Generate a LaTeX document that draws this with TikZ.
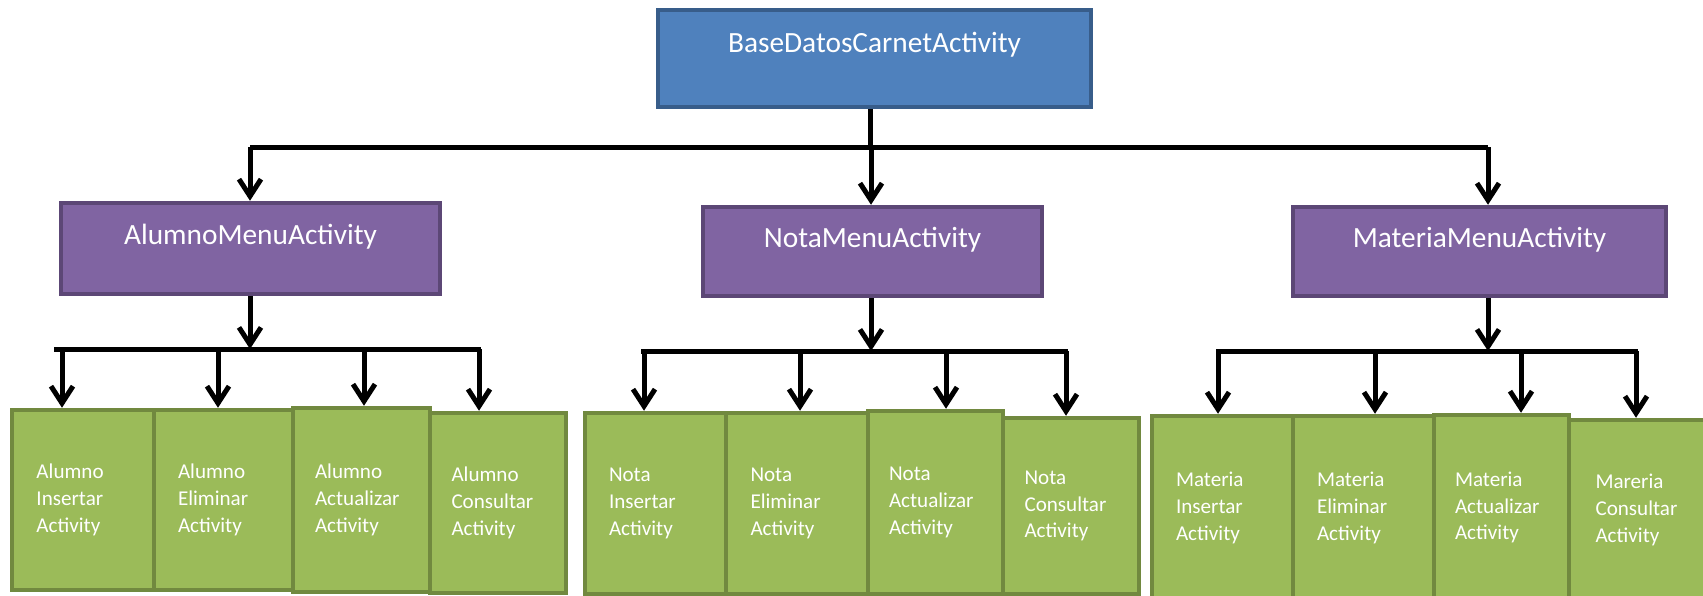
\documentclass[tikz,border=0pt]{standalone}
\usepackage{fontspec}
\setmainfont{Carlito}
\usepackage{xcolor}
\usetikzlibrary{arrows.meta}
\definecolor{baseblue}{HTML}{4F81BD}
\definecolor{baseline}{HTML}{385D8A}
\definecolor{menupurple}{HTML}{8064A2}
\definecolor{menuline}{HTML}{5C4776}
\definecolor{actgreen}{HTML}{9BBB59}
\definecolor{actline}{HTML}{71893F}

\begin{document}
\begin{tikzpicture}[x=0.2mm,y=-0.2mm,
  conn/.style={line width=1mm},
  arr/.style={conn,-{Straight Barb[length=3.4mm,width=4.4mm]}},
  topbox/.style={draw=baseline,fill=baseblue,line width=0.9mm,text=white,inner sep=0pt,font=\fontsize{16.7}{20}\selectfont},
  menubox/.style={draw=menuline,fill=menupurple,line width=0.9mm,text=white,inner sep=0pt,font=\fontsize{16.7}{20}\selectfont},
  actbox/.style 2 args={draw=actline,fill=actgreen,line width=0.9mm,text=white,align=left,text width=18.6mm,inner sep=0pt,minimum width=#1,minimum height=#2,font=\fontsize{12}{15.2}\selectfont}]
\useasboundingbox (0,0) rectangle (1703,595);
\clip (0,0) rectangle (1703,595);

% main activity
\node[topbox,minimum width=86.6mm,text height=8.5mm,text depth=10.9mm] (base) at (874.5,58.5) {BaseDatosCarnetActivity};

% menus
\node[menubox,minimum width=75.8mm,text height=8.3mm,text depth=9.9mm] (alumnoMenu) at (250.5,248.5) {AlumnoMenuActivity};
\node[menubox,minimum width=67.8mm,text height=8.1mm,text depth=9.7mm] (notaMenu) at (872.5,251.5) {NotaMenuActivity};
\node[menubox,minimum width=74.6mm,text height=8.1mm,text depth=9.7mm] (materiaMenu) at (1479.5,251.5) {MateriaMenuActivity};

% alumno activities
\node[actbox={28.4mm}{36mm}] (aIns) at (83,500) {Alumno\\Insertar\\Activity};
\node[actbox={28.2mm}{36mm}] (aEli) at (224.5,500) {Alumno\\Eliminar\\Activity};
\node[actbox={27.2mm}{36mm}] (aCon) at (498,503) {Alumno\\Consultar\\Activity};
\node[actbox={27.4mm}{36.8mm}] (aAct) at (361.5,500) {Alumno\\Actualizar\\Activity};

% nota activities
\node[actbox={28.2mm}{36.2mm}] (nIns) at (655.5,503.5) {Nota\\Insertar\\Activity};
\node[actbox={28.4mm}{36.2mm}] (nEli) at (797,503.5) {Nota\\Eliminar\\Activity};
\node[actbox={27.2mm}{35.2mm}] (nCon) at (1071,506) {Nota\\Consultar\\Activity};
\node[actbox={27mm}{36.6mm}] (nAct) at (935.5,502.5) {Nota\\Actualizar\\Activity};

% materia activities
\node[actbox={28.2mm}{36.8mm}] (mIns) at (1222.5,508) {Materia\\Insertar\\Activity};
\node[actbox={28.2mm}{36.8mm}] (mEli) at (1363.5,508) {Materia\\Eliminar\\Activity};
\node[actbox={29.2mm}{36mm}] (mCon) at (1642,510) {Mareria\\Consultar\\Activity};
\node[actbox={27mm}{37mm}] (mAct) at (1501.5,507.5) {Materia\\Actualizar\\Activity};

% top level connectors
\coordinate (tB0) at (870,147);
\coordinate (tB1) at (250,147);
\coordinate (tB2) at (871,147);
\coordinate (tB3) at (1488,147);
\draw[conn] (tB0 |- base.south) -- (tB0);
\draw[conn] (tB1) -- (tB3);
\draw[arr] (tB1) -- (tB1 |- alumnoMenu.north);
\draw[arr] (tB2) -- (tB2 |- notaMenu.north);
\draw[arr] (tB3) -- (tB3 |- materiaMenu.north);

% alumno connectors
\coordinate (aB0) at (250,349);
\coordinate (aB1) at (62,349);
\coordinate (aB2) at (218,349);
\coordinate (aB3) at (364,349);
\coordinate (aB4) at (479,349);
\draw[arr] (aB0 |- alumnoMenu.south) -- (aB0);
\draw[conn] (54,349) -- (481,349);
\draw[arr] (aB1) -- (aB1 |- aIns.north);
\draw[arr] (aB2) -- (aB2 |- aEli.north);
\draw[arr] (aB3) -- (aB3 |- aAct.north);
\draw[arr] (aB4) -- (aB4 |- aCon.north);

% nota connectors
\coordinate (nB0) at (871,351);
\coordinate (nB1) at (644,351);
\coordinate (nB2) at (800,351);
\coordinate (nB3) at (946,351);
\coordinate (nB4) at (1066,351);
\draw[arr] (nB0 |- notaMenu.south) -- (nB0);
\draw[conn] (641,351) -- (1068,351);
\draw[arr] (nB1) -- (nB1 |- nIns.north);
\draw[arr] (nB2) -- (nB2 |- nEli.north);
\draw[arr] (nB3) -- (nB3 |- nAct.north);
\draw[arr] (nB4) -- (nB4 |- nCon.north);

% materia connectors
\coordinate (mB0) at (1488,351);
\coordinate (mB1) at (1218,351);
\coordinate (mB2) at (1375,351);
\coordinate (mB3) at (1521,351);
\coordinate (mB4) at (1636,351);
\draw[arr] (mB0 |- materiaMenu.south) -- (mB0);
\draw[conn] (1216,351) -- (1638,351);
\draw[arr] (mB1) -- (mB1 |- mIns.north);
\draw[arr] (mB2) -- (mB2 |- mEli.north);
\draw[arr] (mB3) -- (mB3 |- mAct.north);
\draw[arr] (mB4) -- (mB4 |- mCon.north);
\end{tikzpicture}
\end{document}
